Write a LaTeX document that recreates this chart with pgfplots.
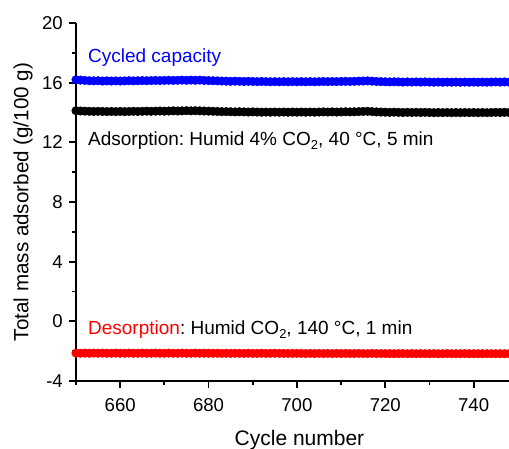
\documentclass[border=0pt]{standalone}
\usepackage{pgfplots}
\usepackage{pgfplotstable}
\pgfplotsset{compat=1.18}
\usepackage{fontspec}
\setmainfont{Liberation Sans}
\frenchspacing
\newcommand{\sub}[1]{\raisebox{-4pt}{\fontsize{13}{13}\selectfont #1}}

% cycle, cycled capacity, adsorption, desorption
\pgfplotstableread{
x b k r
650 16.20 14.12 -2.13
651 16.17 14.10 -2.14
652 16.15 14.09 -2.13
653 16.13 14.08 -2.14
654 16.12 14.07 -2.13
655 16.13 14.08 -2.14
656 16.11 14.07 -2.13
657 16.12 14.06 -2.14
658 16.11 14.07 -2.14
659 16.12 14.06 -2.13
660 16.11 14.07 -2.14
661 16.12 14.06 -2.14
662 16.13 14.07 -2.13
663 16.12 14.08 -2.14
664 16.13 14.07 -2.14
665 16.14 14.08 -2.13
666 16.13 14.09 -2.14
667 16.14 14.08 -2.14
668 16.15 14.09 -2.13
669 16.14 14.10 -2.14
670 16.15 14.09 -2.14
671 16.16 14.10 -2.13
672 16.15 14.11 -2.14
673 16.16 14.10 -2.14
674 16.17 14.11 -2.13
675 16.16 14.12 -2.14
676 16.17 14.11 -2.14
677 16.16 14.12 -2.13
678 16.17 14.11 -2.14
679 16.15 14.10 -2.14
680 16.14 14.09 -2.14
681 16.13 14.08 -2.14
682 16.12 14.07 -2.14
683 16.11 14.06 -2.15
684 16.10 14.06 -2.14
685 16.09 14.05 -2.15
686 16.10 14.04 -2.14
687 16.09 14.05 -2.15
688 16.08 14.04 -2.15
689 16.09 14.03 -2.14
690 16.08 14.04 -2.15
691 16.07 14.03 -2.15
692 16.08 14.02 -2.14
693 16.07 14.03 -2.15
694 16.06 14.02 -2.15
695 16.07 14.03 -2.14
696 16.06 14.02 -2.15
697 16.07 14.03 -2.15
698 16.06 14.02 -2.15
699 16.07 14.03 -2.15
700 16.06 14.02 -2.15
701 16.07 14.03 -2.15
702 16.06 14.02 -2.16
703 16.07 14.03 -2.15
704 16.06 14.02 -2.16
705 16.07 14.03 -2.15
706 16.08 14.04 -2.16
707 16.07 14.03 -2.15
708 16.08 14.04 -2.16
709 16.07 14.03 -2.15
710 16.08 14.04 -2.16
711 16.09 14.05 -2.15
712 16.08 14.04 -2.16
713 16.09 14.05 -2.16
714 16.10 14.06 -2.15
715 16.11 14.07 -2.16
716 16.12 14.08 -2.16
717 16.10 14.06 -2.15
718 16.08 14.04 -2.16
719 16.07 14.03 -2.16
720 16.06 14.02 -2.16
721 16.05 14.01 -2.16
722 16.06 14.02 -2.17
723 16.05 14.01 -2.16
724 16.04 14.00 -2.16
725 16.05 14.01 -2.17
726 16.04 14.00 -2.16
727 16.05 14.01 -2.17
728 16.04 14.00 -2.16
729 16.05 14.01 -2.17
730 16.04 14.00 -2.17
731 16.03 13.99 -2.16
732 16.04 14.00 -2.17
733 16.03 13.99 -2.17
734 16.04 14.00 -2.16
735 16.03 13.99 -2.17
736 16.04 14.00 -2.17
737 16.03 13.99 -2.17
738 16.04 14.00 -2.16
739 16.03 13.99 -2.17
740 16.04 14.00 -2.17
741 16.03 13.99 -2.17
742 16.04 14.00 -2.17
743 16.03 13.99 -2.17
744 16.04 14.00 -2.17
745 16.05 14.01 -2.17
746 16.04 14.00 -2.17
747 16.05 14.01 -2.17
748 16.04 14.00 -2.17
}\cyc

\begin{document}
\begin{tikzpicture}
\begin{axis}[
  scale only axis,
  width=433pt, height=358pt,
  xmin=650, xmax=748,
  ymin=-4, ymax=20,
  axis x line=bottom, axis y line=left,
  axis line style={-, line width=1.8pt},
  tick align=outside,
  xtick={660,680,...,740},
  minor xtick={650,670,...,750},
  ytick={-4,0,...,20},
  minor ytick={-2,2,...,18},
  major tick length=7pt, minor tick length=4pt,
  every tick/.style={black, line width=1.8pt},
  ticklabel style={font=\fontsize{18.6}{20}\selectfont, inner sep=0pt},
  xticklabel style={anchor=north, yshift=-10pt},
  yticklabel style={anchor=east, xshift=-6pt},
  /pgf/number format/assume math mode=true,
  xlabel={Cycle number},
  ylabel={Total mass adsorbed (g/100 g)},
  xlabel style={at={([xshift=7pt, yshift=-65pt]rel axis cs:0.5,0)}, anchor=base, font=\fontsize{21}{24}\selectfont},
  ylabel style={at={([xshift=-53pt]rel axis cs:0,0.5)}, anchor=center, font=\fontsize{20.6}{24}\selectfont},
  every axis plot/.append style={only marks, mark=*, mark size=4.3pt},
]
\addplot[blue, mark options={fill=blue}] table[x=x, y=b] {\cyc};
\addplot[black, mark options={fill=black}] table[x=x, y=k] {\cyc};
\addplot[red, mark options={fill=red}] table[x=x, y=r] {\cyc};

\node[anchor=base west, inner sep=0pt, text=blue, font=\fontsize{19}{22}\selectfont]
  at (axis cs:652.7,17.32) {Cycled capacity};
\node[anchor=base west, inner sep=0pt, font=\fontsize{19}{22}\selectfont]
  at (axis cs:652.7,11.82) {Adsorption: Humid 4\% CO\sub{2}, 40 °C, 5 min};
\node[anchor=base west, inner sep=0pt, font=\fontsize{19}{22}\selectfont]
  at (axis cs:652.7,-0.91) {\textcolor{red}{Desorption}: Humid CO\sub{2}, 140 °C, 1 min};

\coordinate (bl) at (rel axis cs:0,0);
\coordinate (tr) at (rel axis cs:1,1);
\end{axis}
\pgfresetboundingbox
\path[use as bounding box] ([shift={(-76pt,-68pt)}]bl) rectangle ([shift={(0pt,23pt)}]tr);
\end{tikzpicture}
\end{document}
